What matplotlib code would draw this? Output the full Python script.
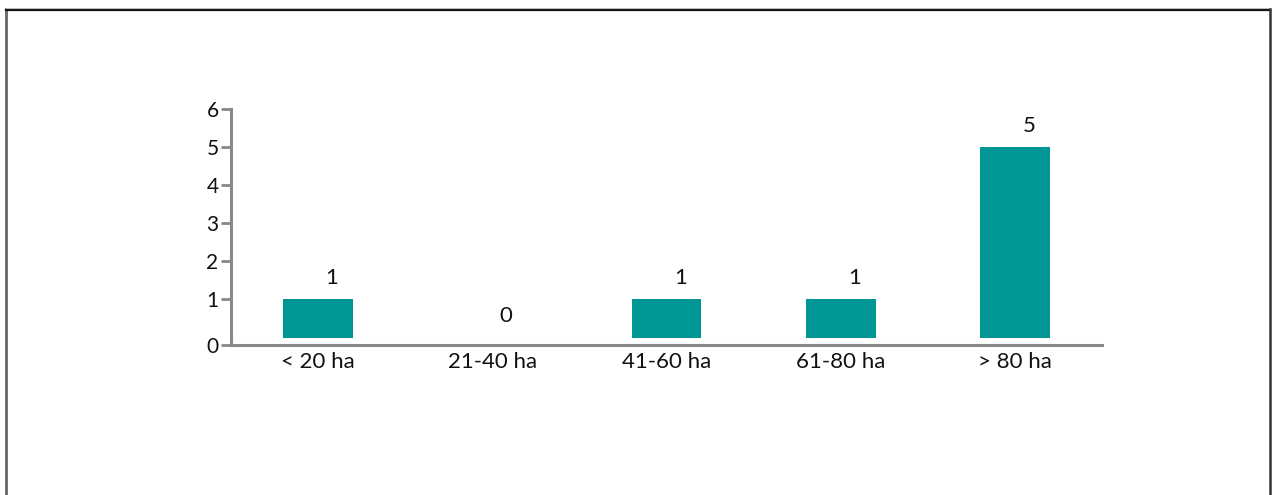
import matplotlib
matplotlib.use("Agg")
import matplotlib.pyplot as plt
from matplotlib.lines import Line2D

categories = ["< 20 ha", "21-40 ha", "41-60 ha", "61-80 ha", "> 80 ha"]
values = [1, 0, 1, 1, 5]
yticks = [0, 1, 2, 3, 4, 5, 6]

plt.rcParams['font.family'] = ['Lato', 'DejaVu Sans']

W, H = 1274, 495
fig = plt.figure(figsize=(W / 100, H / 100), dpi=100)
fig.patch.set_facecolor('white')

# outer frame (left, top, right)
fig.add_artist(Line2D([6 / W, 6 / W], [0, 1 - 9 / H], transform=fig.transFigure, color='#666666', lw=2))
fig.add_artist(Line2D([6 / W, 1270 / W], [1 - 9.5 / H, 1 - 9.5 / H], transform=fig.transFigure, color='#111111', lw=1.6))
fig.add_artist(Line2D([6 / W, 1270 / W], [1 - 8 / H, 1 - 8 / H], transform=fig.transFigure, color='#bbbbbb', lw=0.8))
fig.add_artist(Line2D([1270 / W, 1270 / W], [0, 1 - 9 / H], transform=fig.transFigure, color='#333333', lw=1.8))

# axis line sits a few pixels below the bars' baseline (as in the original)
top_px, zero_px, axis_px = 109, 337.5, 345
ymax = yticks[-1]
ybottom = -(axis_px - zero_px) / (zero_px - top_px) * ymax

ax = fig.add_axes([231 / W, 1 - axis_px / H, (1102 - 231) / W, (axis_px - top_px) / H])
x = range(len(categories))
ax.bar(x, values, width=0.40, color='#009694', zorder=2)
ax.set_xlim(-0.5, len(categories) - 0.5)
ax.set_ylim(ybottom, ymax)
ax.set_yticks([ybottom] + yticks[1:])
ax.set_yticklabels([str(t) for t in yticks])
ax.set_xticks(list(x))
ax.set_xticklabels(categories, fontsize=16, color='#111111')
ax.tick_params(axis='x', length=0, pad=5)
ax.tick_params(axis='y', length=7, width=2, color='#888888', labelsize=15, labelcolor='#111111', pad=2)
for s in ['top', 'right']:
    ax.spines[s].set_visible(False)
for s in ['left', 'bottom']:
    ax.spines[s].set_color('#888888')
    ax.spines[s].set_linewidth(2.2)

for xi, v in zip(x, values):
    ax.annotate(str(v), (xi, v), xytext=(10, 8), textcoords='offset points',
                ha='center', va='bottom', fontsize=16, color='#111111')

fig.savefig('out.png', dpi=100)
